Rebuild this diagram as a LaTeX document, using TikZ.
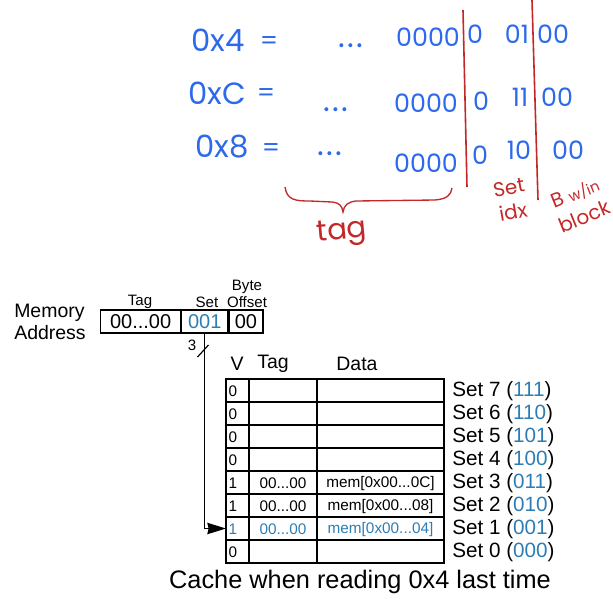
\documentclass[tikz,border=0pt]{standalone}
\usepackage{fontspec}
\setmainfont{Liberation Sans}
\newfontfamily\handfont{Poppins}
\usetikzlibrary{arrows.meta}
\definecolor{setblue}{RGB}{45,125,180}
\definecolor{penblue}{RGB}{45,105,235}
\definecolor{penred}{RGB}{195,40,40}

\def\rowHeight{23}
\def\numRows{8}
\def\tableTop{379}
\def\vLeft{226}
\def\tagLeft{249}
\def\dataLeft{317}
\def\tableRight{444}

\tikzset{
  pen/.style={text=penblue,font=\handfont\fontsize{19}{19}\selectfont,inner sep=0pt},
  hexpen/.style={pen,font=\handfont\fontsize{23}{23}\selectfont},
  ink/.style={text=penred,font=\handfont\fontsize{15}{19}\selectfont,align=center,inner sep=0pt},
  field/.style={draw,line width=0.9pt,minimum height=17.25pt,inner sep=0pt,anchor=west,font=\fontsize{15}{15}\selectfont},
  cellText/.style={inner sep=0pt,font=\fontsize{11.5}{12}\selectfont},
  smallLabel/.style={inner sep=0pt,align=center,font=\fontsize{11.3}{12.5}\selectfont},
  bigLabel/.style={inner sep=0pt,font=\fontsize{14.6}{17}\selectfont},
  setLabel/.style={inner sep=0pt,anchor=west,font=\fontsize{15.5}{17}\selectfont},
}

\begin{document}
\begin{tikzpicture}[x=0.75pt,y=-0.75pt]
    \useasboundingbox (0,0) rectangle (613,615);
    \pgfmathsetmacro{\tableBottom}{\tableTop+\numRows*\rowHeight}

    \foreach \n/\x/\y/\txt in {hexa/218/40/0x4,hexb/217/93/0xC,hexc/222/147/0x8} {
      \node[hexpen] (\n) at (\x,\y) {\txt};
    }
    \foreach \n/\x/\y in {dotsa/351/46,dotsb/336/110,dotsc/330/154} {
      \node[pen,font=\handfont\fontsize{24}{24}\selectfont] (\n) at (\x,\y) {.\kern1.5pt.\kern1.5pt.};
    }
    \foreach \n/\x/\y/\txt in {eqa/269/43/=,tagbitsa/428/37/0000,idxa/475/34/0,idxb/517/34/01,offa/553/34/00,
                              eqb/266/95/=,tagbitsb/426/103/0000,idxc/481/101/0,idxd/520/97/11,offb/557/97/00,
                              eqc/271/150/=,tagbitsc/426/163/0000,idxe/480/155/0,idxf/519/150/10,offc/568/150/00} {
      \node[pen] (\n) at (\x,\y) {\txt};
    }

    \draw[penred,line width=1.2pt] (463,10) -- (467,187);
    \draw[penred,line width=1.2pt] (532,0) -- (538,200);
    \draw[penred,line width=1pt] (285,187) .. controls (287,200) and (295,201) .. (310,201) -- (332,202)
      .. controls (340,203) and (342,206) .. (343,212) .. controls (344,205) and (348,202) .. (356,201)
      -- (435,200) .. controls (447,199) and (451,195) .. (452,188);
    \node[ink,font=\handfont\fontsize{22}{22}\selectfont,rotate=5] (tagnote) at (342,233) {tag};
    \node[ink,rotate=10] (idxnote) at (511,200) {Set\\idx};
    \node[ink,rotate=22] (blocknote) at (580,205) {B {\fontsize{11}{11}\selectfont w/in}\\block};

    \node[bigLabel,align=left,anchor=west] (memaddr) at (14,322) {Memory\\Address};
    \node[field,minimum width=60pt] (addrtag) at (100,321.5) {00...00};
    \node[field,minimum width=34.5pt,text=setblue] (addrset) at (addrtag.east) {001};
    \node[field,minimum width=25.5pt] (addroff) at (addrset.east) {00};
    \node[smallLabel] (tagname) at (140,302) {Tag};
    \node[smallLabel] (setname) at (207,302) {Set};
    \node[smallLabel,anchor=south] (offname) at (247,308) {Byte\\Offset};

    \coordinate (bus) at (203,351);
    \draw[line width=0.9pt] (bus) +(-5.5,6) -- +(5.5,-6);
    \node[smallLabel] (buswidth) at (192,345) {3};

    \node[bigLabel] (vhead) at (237,364) {V};
    \node[bigLabel] (taghead) at (273,364) {Tag};
    \node[bigLabel] (datahead) at (357,364) {Data};

    \draw[line width=0.9pt] (\vLeft,\tableTop) rectangle (\tableRight,\tableBottom);
    \foreach \i in {1,...,7} {
      \draw[line width=0.9pt] (\vLeft,\tableTop+\i*\rowHeight) -- (\tableRight,\tableTop+\i*\rowHeight);
    }
    \draw[line width=0.9pt] (\tagLeft,\tableTop) -- (\tagLeft,\tableBottom);
    \draw[line width=0.9pt] (\dataLeft,\tableTop) -- (\dataLeft,\tableBottom);

    \foreach \i/\vbit/\tagv/\datav/\setv/\col in {0/0/{}/{}/111/black,1/0/{}/{}/110/black,2/0/{}/{}/101/black,3/0/{}/{}/100/black,
                                              4/1/{00...00}/{mem[0x00...0C]}/011/black,5/1/{00...00}/{mem[0x00...08]}/010/black,
                                              6/1/{00...00}/{mem[0x00...04]}/001/setblue,7/0/{}/{}/000/black} {
      \pgfmathtruncatemacro{\setnum}{7-\i}
      \pgfmathsetmacro{\rowY}{\tableTop+\i*\rowHeight+0.5*\rowHeight+1}
      \node[cellText,text=\col] (v\i) at (233,\rowY) {\vbit};
      \node[cellText,text=\col] (tag\i) at (283,\rowY) {\tagv};
      \node[cellText,text=\col] (data\i) at (380.5,\rowY) {\datav};
      \node[setLabel] (set\i) at (452,\rowY) {Set \setnum\ (\textcolor{setblue}{\setv})};
    }

    \coordinate (rowin) at (\vLeft,\tableTop+6.5*\rowHeight);
    \draw[line width=0.9pt,-{Stealth[length=14pt,width=8.5pt,inset=1pt]}] (addrset.south) |- (rowin);

    \node[inner sep=0pt,font=\fontsize{19}{21}\selectfont] (caption) at (360,582) {Cache when reading 0x4 last time};
  \end{tikzpicture}
\end{document}
